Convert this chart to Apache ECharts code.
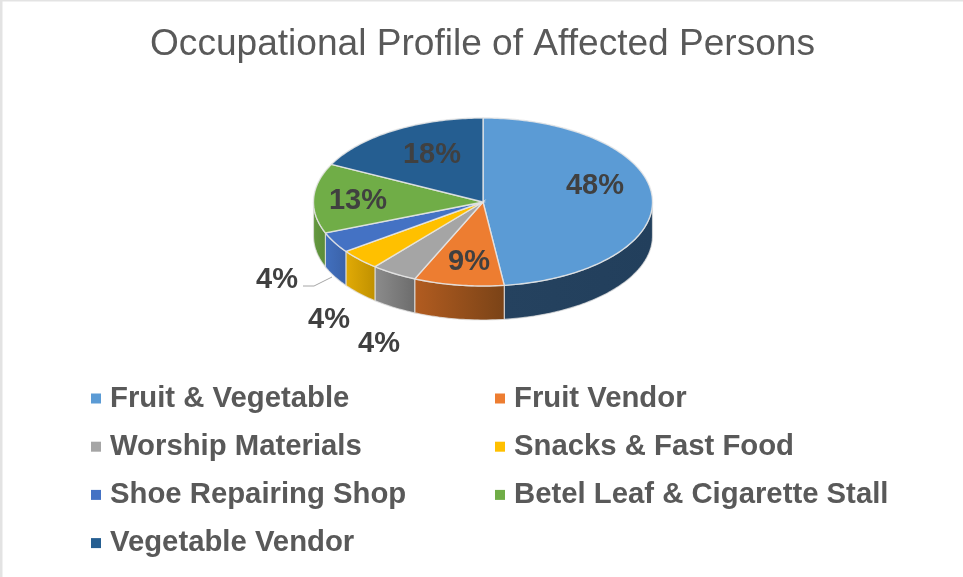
<!DOCTYPE html>
<html>
<head>
<meta charset="utf-8">
<title>Occupational Profile of Affected Persons</title>
<script src="https://cdn.jsdelivr.net/npm/echarts@6/dist/echarts.min.js"></script>
<style>
  html, body { margin: 0; padding: 0; background: #fff; }
  #chart { width: 963px; height: 577px; }
</style>
</head>
<body>
<div id="chart"></div>
<script>
const categories = ['Fruit & Vegetable', 'Fruit Vendor', 'Worship Materials', 'Snacks & Fast Food',
  'Shoe Repairing Shop', 'Betel Leaf & Cigarette Stall', 'Vegetable Vendor']
// estimated from the slice edges, the labels show them rounded
const shares = [48, 8.6, 4.4, 4, 4, 13.4, 17.6]

const topColors = ['#5b9bd5', '#ed7d31', '#a5a5a5', '#ffc000', '#4472c4', '#70ad47', '#255e91']
// side wall of each slice, left and right end of the gradient
const sideColors = [
  ['#25425f', '#223f5c'], ['#b25c20', '#7a4317'], ['#8c8c8c', '#6c6c6c'], ['#e2ab06', '#bf9000'],
  ['#4270bf', '#3a62a8'], ['#64993f', '#5b8c39'], ['#1c4770', '#1c4770']
]

// ellipse of the tilted pie
const CX = 483, CY = 202, RX = 169.5, RY = 84, DEPTH = 34
const labelSpots = [[595, 186], [469, 262], [379, 344], [329, 320], [277, 280], [358, 201], [432, 155]]
const leaderLine = [[303, 286], [314, 286], [332, 277]]

function rim(deg, drop) {
  const a = deg * Math.PI / 180
  return [CX + RX * Math.sin(a), CY - RY * Math.cos(a) + drop]
}

function arc(from, to, drop) {
  const pts = []
  const steps = Math.max(2, Math.ceil(Math.abs(to - from)))
  for (let i = 0; i <= steps; i++) pts.push(rim(from + (to - from) * i / steps, drop))
  return pts
}

function renderSlice(idx) {
  return function (params, api) {
    const start = api.value(1) * 3.6
    const end = start + api.value(0) * 3.6
    const children = []

    // only the part of the wall facing the viewer is drawn
    const wallFrom = Math.max(start, 90), wallTo = Math.min(end, 270)
    if (wallTo > wallFrom) {
      children.push({
        type: 'polygon',
        shape: { points: arc(wallFrom, wallTo, 0).concat(arc(wallTo, wallFrom, DEPTH)) },
        style: {
          fill: new echarts.graphic.LinearGradient(0, 0, 1, 0, [
            { offset: 0, color: sideColors[idx][0] },
            { offset: 1, color: sideColors[idx][1] }
          ]),
          stroke: 'rgba(225,225,225,0.75)',
          lineWidth: 1.2
        }
      })
    }

    children.push({
      type: 'polygon',
      shape: { points: [[CX, CY]].concat(arc(start, end, 0)) },
      style: { fill: topColors[idx], stroke: 'rgba(230,230,230,0.85)', lineWidth: 1.4 }
    })

    if (idx === 4) {
      children.push({
        type: 'polyline',
        shape: { points: leaderLine },
        style: { fill: null, stroke: '#a6a6a6', lineWidth: 1 }
      })
    }

    children.push({
      type: 'text',
      z2: 100,
      x: labelSpots[idx][0],
      y: labelSpots[idx][1],
      style: {
        text: Math.round(api.value(0)) + '%',
        fill: '#404040',
        font: 'bold 29px "Liberation Sans", Arial, sans-serif',
        align: 'center',
        verticalAlign: 'middle'
      }
    })

    return { type: 'group', children }
  }
}

let running = 0
const series = categories.map((name, i) => {
  const before = running
  running += shares[i]
  return {
    name: name,
    type: 'custom',
    coordinateSystem: 'none',
    itemStyle: { color: topColors[i] },
    silent: true,
    animation: false,
    renderItem: renderSlice(i),
    data: [[shares[i], before]]
  }
})

function legendColumn(left, names) {
  return {
    left: left,
    top: 379,
    orient: 'vertical',
    icon: 'rect',
    itemWidth: 10,
    itemHeight: 10,
    itemGap: 19.2,
    selectedMode: false,
    textStyle: {
      color: '#595959',
      fontSize: 29.3,
      fontWeight: 'bold',
      fontFamily: '"Liberation Sans", Arial, sans-serif',
      padding: [0, 0, 0, 4]
    },
    data: names
  }
}

const chart = echarts.init(document.getElementById('chart'), null, { renderer: 'canvas' })
chart.setOption({
  backgroundColor: '#fff',
  animation: false,
  title: {
    text: 'Occupational Profile of Affected Persons',
    left: 145,
    top: 21,
    textStyle: {
      color: '#595959',
      fontSize: 37.1,
      fontWeight: 'normal',
      fontFamily: '"Liberation Sans", Arial, sans-serif'
    }
  },
  legend: [
    legendColumn(86, categories.filter((c, i) => i % 2 === 0)),
    legendColumn(490, categories.filter((c, i) => i % 2 === 1))
  ],
  // faint frame of the screenshot, top and left edge only
  graphic: [
    { type: 'rect', left: 0, top: 0, shape: { width: 963, height: 1.5 }, style: { fill: '#e3e3e3' }, silent: true },
    { type: 'rect', left: 0, top: 0, shape: { width: 2.5, height: 577 }, style: { fill: '#e3e3e3' }, silent: true }
  ],
  series: series
})
</script>
</body>
</html>
